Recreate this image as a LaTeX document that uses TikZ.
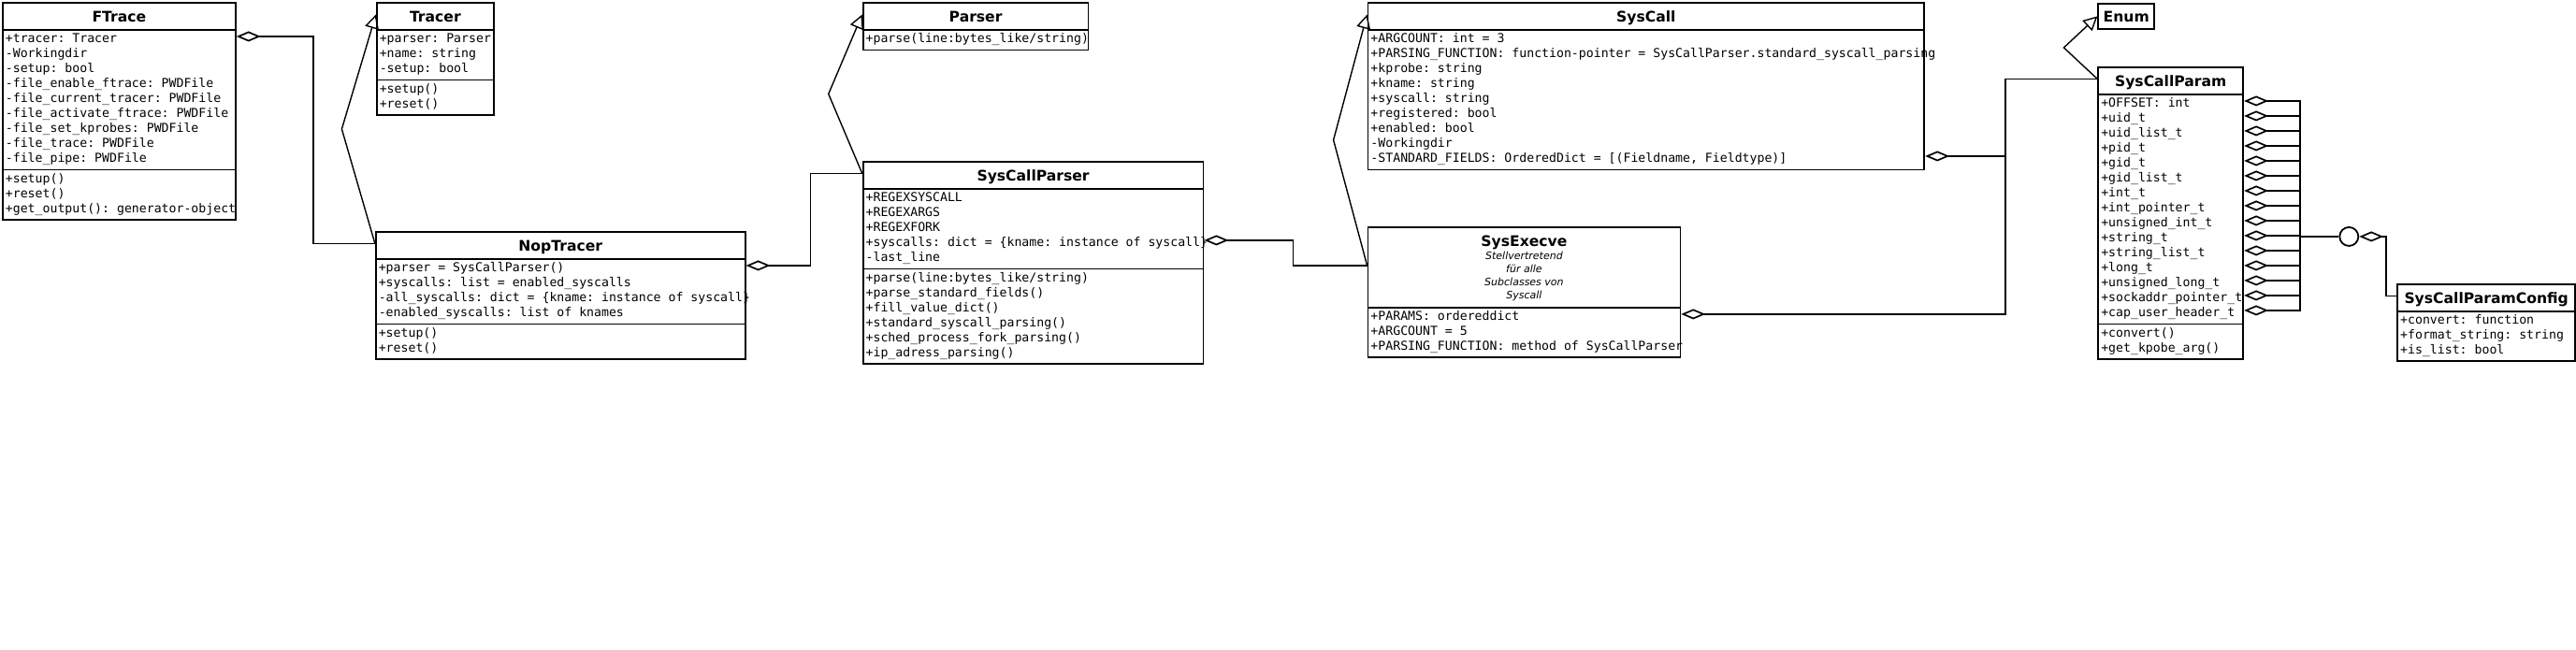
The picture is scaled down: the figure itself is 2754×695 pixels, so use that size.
\documentclass[tikz,border=0pt]{standalone}
\usepackage{fontspec}
\setmainfont{DejaVu Sans}
\setmonofont{DejaVu Sans Mono}
\usetikzlibrary{shapes.multipart,arrows.meta,calc}

\newcommand\umlfont{\fontsize{6.6}{8}\selectfont\ttfamily}
\newcommand\cname[1]{\rule[-2.5pt]{0pt}{11.5pt}\textbf{\rmfamily\fontsize{7.8}{9}\selectfont #1}}
\newcommand\spill[1]{\makebox[0pt][l]{#1}}

\tikzset{
  umlbox/.style={draw, line width=0.9pt, anchor=north west, inner xsep=1.5pt, inner ysep=1pt, font=\umlfont},
  umlclass/.style={umlbox, rectangle split, rectangle split parts=3,
    rectangle split part align={center,left,left}, align=left},
  agg/.style={{Diamond[open,length=13pt,width=5.5pt]}-, line width=0.85pt},
  gen/.style={-{Triangle[open,length=7.5pt,width=7.5pt]}, line width=0.7pt},
}

\begin{document}
\begin{tikzpicture}[x=0.5pt,y=-0.5pt]
  \path[fill=white] (0,0) rectangle (2754,695);

  \node[umlclass, minimum width=124.5pt] (ftrace) at (2,2) {\cname{FTrace}\nodepart{two}\strut +tracer: Tracer\\
    -Workingdir\\
    -setup: bool\\
    -file\_enable\_ftrace: PWDFile\\
    -file\_current\_tracer: PWDFile\\
    -file\_activate\_ftrace: PWDFile\\
    -file\_set\_kprobes: PWDFile\\
    -file\_trace: PWDFile\\
    -file\_pipe: PWDFile\strut
    \nodepart{three}\strut +setup()\\
    +reset()\\
    \spill{+get\_output(): generator-object}\strut};

  \node[umlclass, minimum width=62.5pt] (tracer) at (402,2) {\cname{Tracer}\nodepart{two}\strut +parser: Parser\\
    +name: string\\
    -setup: bool\strut
    \nodepart{three}\strut +setup()\\
    +reset()\strut};

  \node[umlclass, rectangle split parts=2, minimum width=120.5pt] (parser) at (922,2) {\cname{Parser}\nodepart{two}\strut\spill{+parse(line:bytes\_like/string)}\strut};

  \node[umlclass, minimum width=197.5pt] (noptracer) at (401,247) {\cname{NopTracer}\nodepart{two}\strut +parser = SysCallParser()\\
    +syscalls: list = enabled\_syscalls\\
    \spill{-all\_syscalls: dict = \{kname: instance of syscall\}}\\
    -enabled\_syscalls: list of knames\strut
    \nodepart{three}\strut +setup()\\
    +reset()\strut};

  \node[umlclass, minimum width=182pt] (scparser) at (922,172) {\cname{SysCallParser}\nodepart{two}\strut +REGEXSYSCALL\\
    +REGEXARGS\\
    +REGEXFORK\\
    \spill{+syscalls: dict = \{kname: instance of syscall\}}\\
    -last\_line\strut
    \nodepart{three}\strut +parse(line:bytes\_like/string)\\
    +parse\_standard\_fields()\\
    +fill\_value\_dict()\\
    +standard\_syscall\_parsing()\\
    +sched\_process\_fork\_parsing()\\
    +ip\_adress\_parsing()\strut};

  \node[umlclass, rectangle split parts=2, minimum width=297.5pt] (syscall) at (1462,2) {\cname{SysCall}\nodepart{two}\strut +ARGCOUNT: int = 3\\
    \spill{+PARSING\_FUNCTION: function-pointer = SysCallParser.standard\_syscall\_parsing}\\
    +kprobe: string\\
    +kname: string\\
    +syscall: string\\
    +registered: bool\\
    +enabled: bool\\
    -Workingdir\\
    -STANDARD\_FIELDS: OrderedDict = [(Fieldname, Fieldtype)]\strut};

  \node[umlclass, rectangle split parts=2, minimum width=167pt] (execve) at (1462,242) {\rule[-31pt]{0pt}{40pt}{\rmfamily\itshape\fontsize{5.5}{7}\selectfont\begin{tabular}[t]{@{}c@{}}\textbf{\upshape\fontsize{7.8}{9}\selectfont SysExecve}\\Stellvertretend\\für alle\\Subclasses von\\Syscall\end{tabular}}\nodepart{two}\strut +PARAMS: ordereddict\\
    +ARGCOUNT = 5\\
    \spill{+PARSING\_FUNCTION: method of SysCallParser}\strut};

  \node[umlbox, minimum width=30pt] (enum) at (2243,3) {\cname{Enum}};

  \node[umlclass, minimum width=77.5pt] (param) at (2243,71) {\cname{SysCallParam}\nodepart{two}\strut +OFFSET: int\\
    +uid\_t\\
    +uid\_list\_t\\
    +pid\_t\\
    +gid\_t\\
    +gid\_list\_t\\
    +int\_t\\
    +int\_pointer\_t\\
    +unsigned\_int\_t\\
    +string\_t\\
    +string\_list\_t\\
    +long\_t\\
    +unsigned\_long\_t\\
    \spill{+sockaddr\_pointer\_t}\\
    +cap\_user\_header\_t\strut
    \nodepart{three}\strut +convert()\\
    +get\_kpobe\_arg()\strut};

  \node[umlclass, rectangle split parts=2, minimum width=95pt] (config) at (2563,303) {\cname{SysCallParamConfig}\nodepart{two}\strut +convert: function\\
    +format\_string: string\\
    +is\_list: bool\strut};

  \node[circle, draw, line width=0.9pt, minimum size=10pt, inner sep=0pt] (junc) at (2512,253) {};

  % header middles
  \coordinate (tracer-h) at ([yshift=-6.75pt]tracer.north west);
  \coordinate (parser-h) at ([yshift=-6.75pt]parser.north west);
  \coordinate (noptracer-h) at ([yshift=-6.75pt]noptracer.north west);
  \coordinate (scparser-h) at ([yshift=-6.75pt]scparser.north west);
  \coordinate (syscall-h) at ([yshift=-6.75pt]syscall.north west);
  \coordinate (execve-h) at ([yshift=-21pt]execve.north west);
  \coordinate (param-h) at ([yshift=-6.75pt]param.north west);
  \coordinate (config-h) at ([yshift=-6.75pt]config.north west);

  \draw[agg] ([yshift=-18.5pt]ftrace.north east) -- ++(41pt,0) |- (noptracer-h);
  \draw[gen] (noptracer-h) -- ($(noptracer-h)!.5!(tracer-h)+(-18pt,0)$) -- (tracer-h);

  \draw[agg] ([yshift=-18.5pt]noptracer.north east) -- ++(34.5pt,0) |- (scparser-h);
  \draw[gen] (scparser-h) -- ($(scparser-h)!.5!(parser-h)+(-18pt,0)$) -- (parser-h);

  \draw[agg] ([yshift=-42.5pt]scparser.north east) -- ++(47.5pt,0) |- (execve-h);
  \draw[gen] (execve-h) -- ($(execve-h)!.5!(syscall-h)+(-18pt,0)$) -- (syscall-h);

  \draw[agg] ([yshift=-47pt]execve.north east) -- ++(173.5pt,0) |- (param-h);
  \draw[agg] ([yshift=-82.5pt]syscall.north east) -- ++(43pt,0) |- (param-h);
  \draw[gen] (param-h) -- ($(param-h)!.5!(enum.west)+(-18pt,0)$) -- (enum.west);

  \foreach \k in {0,...,14}
    \draw[agg] ([yshift=-18.5pt-8pt*\k]param.north east) -- ++(30pt,0) |- (junc.west);
  \draw[agg] (junc.east) -- ++(14.5pt,0) |- (config-h);
\end{tikzpicture}
\end{document}
